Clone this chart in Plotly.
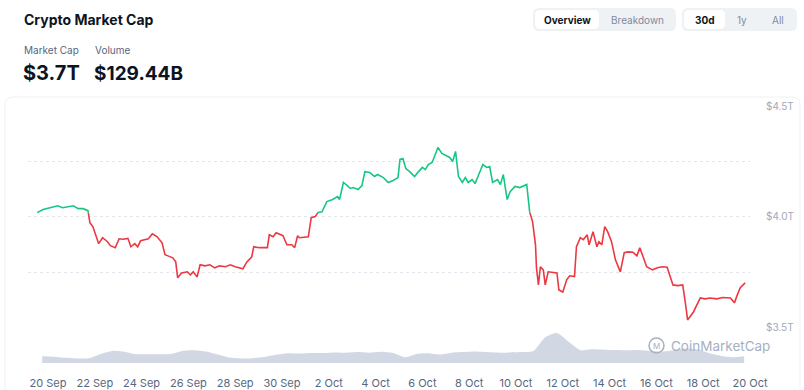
import plotly.graph_objects as go
import pandas as pd

# ---------------- data ----------------
times = [
 "2025-09-19 13:00","2025-09-19 19:00","2025-09-20 02:00","2025-09-20 10:00","2025-09-20 15:00","2025-09-20 23:00",
 "2025-09-21 02:00","2025-09-21 07:00","2025-09-21 12:00","2025-09-21 17:00","2025-09-21 19:00","2025-09-21 22:00",
 "2025-09-22 02:00","2025-09-22 04:00","2025-09-22 08:00","2025-09-22 13:00","2025-09-22 16:00","2025-09-22 21:00",
 "2025-09-23 01:00","2025-09-23 05:00","2025-09-23 10:00","2025-09-23 13:00","2025-09-23 17:00","2025-09-23 20:00",
 "2025-09-23 23:00","2025-09-24 07:00","2025-09-24 11:00","2025-09-24 16:00","2025-09-24 21:00","2025-09-25 00:00",
 "2025-09-25 03:00","2025-09-25 08:00","2025-09-25 11:00","2025-09-25 13:00","2025-09-25 17:00","2025-09-25 23:00",
 "2025-09-26 02:00","2025-09-26 05:00","2025-09-26 09:00","2025-09-26 12:00","2025-09-26 17:00","2025-09-26 22:00",
 "2025-09-27 03:00","2025-09-27 08:00","2025-09-27 14:00","2025-09-27 19:00","2025-09-28 00:00","2025-09-28 08:00",
 "2025-09-28 12:00","2025-09-28 17:00","2025-09-28 19:00","2025-09-29 01:00","2025-09-29 09:00","2025-09-29 11:00",
 "2025-09-29 15:00","2025-09-29 18:00","2025-09-30 01:00","2025-09-30 05:00","2025-09-30 10:00","2025-09-30 13:00",
 "2025-09-30 16:00","2025-09-30 18:00","2025-10-01 03:00","2025-10-01 06:00","2025-10-01 10:00","2025-10-01 13:00",
 "2025-10-01 17:00","2025-10-01 22:00","2025-10-02 04:00","2025-10-02 09:00","2025-10-02 11:00","2025-10-02 15:00",
 "2025-10-02 19:00","2025-10-02 22:00","2025-10-03 01:00","2025-10-03 06:00","2025-10-03 10:00","2025-10-03 13:00",
 "2025-10-03 18:00","2025-10-03 23:00","2025-10-04 02:00","2025-10-04 08:00","2025-10-04 13:00","2025-10-04 18:00",
 "2025-10-04 23:00","2025-10-05 01:00","2025-10-05 04:00","2025-10-05 07:00","2025-10-05 11:00","2025-10-05 16:00",
 "2025-10-05 20:00","2025-10-06 00:00","2025-10-06 03:00","2025-10-06 06:00","2025-10-06 10:00","2025-10-06 13:00",
 "2025-10-06 16:00","2025-10-06 20:00","2025-10-07 01:00","2025-10-07 04:00","2025-10-07 07:00","2025-10-07 10:00",
 "2025-10-07 13:00","2025-10-07 17:00","2025-10-07 20:00","2025-10-07 23:00","2025-10-08 03:00","2025-10-08 06:00",
 "2025-10-08 09:00","2025-10-08 14:00","2025-10-08 18:00","2025-10-08 21:00","2025-10-09 00:00","2025-10-09 05:00",
 "2025-10-09 08:00","2025-10-09 11:00","2025-10-09 13:00","2025-10-09 15:00","2025-10-09 18:00","2025-10-09 23:00",
 "2025-10-10 04:00","2025-10-10 07:00","2025-10-10 11:00","2025-10-10 14:00","2025-10-10 17:00","2025-10-10 20:00",
 "2025-10-10 21:00","2025-10-10 23:00","2025-10-11 01:00","2025-10-11 04:00","2025-10-11 06:00","2025-10-11 09:00",
 "2025-10-11 14:00","2025-10-11 18:00","2025-10-11 20:00","2025-10-12 00:00","2025-10-12 04:00","2025-10-12 07:00",
 "2025-10-12 12:00","2025-10-12 14:00","2025-10-12 18:00","2025-10-12 21:00","2025-10-13 01:00","2025-10-13 03:00",
 "2025-10-13 07:00","2025-10-13 11:00","2025-10-13 13:00","2025-10-13 16:00","2025-10-13 19:00","2025-10-13 22:00",
 "2025-10-14 02:00","2025-10-14 06:00","2025-10-14 11:00","2025-10-14 15:00","2025-10-14 19:00","2025-10-15 00:00",
 "2025-10-15 04:00","2025-10-15 07:00","2025-10-15 14:00","2025-10-15 20:00","2025-10-16 01:00","2025-10-16 06:00",
 "2025-10-16 11:00","2025-10-16 14:00","2025-10-16 17:00","2025-10-16 22:00","2025-10-17 03:00","2025-10-17 06:00",
 "2025-10-17 08:00","2025-10-17 14:00","2025-10-17 18:00","2025-10-17 21:00","2025-10-18 02:00","2025-10-18 07:00",
 "2025-10-18 14:00","2025-10-18 20:00","2025-10-19 04:00","2025-10-19 08:00","2025-10-19 11:00","2025-10-19 14:00",
 "2025-10-19 19:00",
]
market_cap_t = [
 4.019,4.033,4.041,4.050,4.041,4.046,
 4.050,4.037,4.037,4.028,3.974,3.956,
 3.897,3.879,3.906,3.888,3.870,3.861,
 3.901,3.899,3.903,3.865,3.879,3.865,
 3.892,3.901,3.924,3.910,3.883,3.829,
 3.824,3.815,3.797,3.725,3.747,3.752,
 3.738,3.752,3.729,3.784,3.779,3.784,
 3.770,3.779,3.775,3.784,3.775,3.766,
 3.797,3.820,3.865,3.861,3.861,3.919,
 3.910,3.928,3.915,3.874,3.874,3.861,
 3.915,3.906,3.910,3.996,4.001,4.020,
 4.023,4.069,4.078,4.091,4.078,4.155,
 4.141,4.128,4.132,4.123,4.141,4.204,
 4.200,4.182,4.191,4.177,4.155,4.164,
 4.177,4.259,4.263,4.218,4.204,4.182,
 4.204,4.223,4.213,4.236,4.245,4.281,
 4.313,4.286,4.277,4.268,4.250,4.295,
 4.182,4.155,4.177,4.155,4.168,4.150,
 4.182,4.236,4.223,4.227,4.155,4.168,
 4.146,4.191,4.132,4.078,4.114,4.137,
 4.132,4.137,4.146,4.023,3.978,3.874,
 3.770,3.693,3.775,3.761,3.693,3.752,
 3.749,3.747,3.670,3.661,3.716,3.734,
 3.731,3.865,3.906,3.897,3.919,3.874,
 3.933,3.865,3.888,3.874,3.956,3.933,
 3.888,3.806,3.752,3.838,3.842,3.840,
 3.824,3.861,3.775,3.761,3.770,3.775,
 3.773,3.729,3.693,3.690,3.693,3.603,
 3.535,3.571,3.603,3.634,3.630,3.634,
 3.630,3.636,3.634,3.612,3.648,3.680,
 3.702,
]

vol_times = pd.date_range("2025-09-19 18:00", "2025-10-19 18:00", freq="12h")
volume_b = [
 150,143,116,102,109,204,272,252,197,197,197,204,272,286,258,190,122,102,109,136,
 184,218,211,224,224,238,231,245,231,252,224,129,204,218,190,231,245,258,245,231,
 238,245,272,578,673,476,286,306,299,292,286,292,272,258,286,326,306,218,163,129,150,
]

y_tickvals = [3.5, 3.75, 4.0, 4.25, 4.5]
y_ticktext = ["$3.5T", "", "$4.0T", "", "$4.5T"]
x_ticks = pd.date_range("2025-09-20", "2025-10-20", freq="2D")
x_ticktext = [f"{d.day} {d:%b}" for d in x_ticks]

GREEN = "#16c784"
RED = "#ea3943"

# -------- split the line into green / red pieces around the first value --------
t = pd.to_datetime(times)
base = market_cap_t[0]
pieces = {True: ([], []), False: ([], [])}
cur = None
for i in range(len(t) - 1):
    t0, t1 = t[i], t[i + 1]
    v0, v1 = market_cap_t[i], market_cap_t[i + 1]
    s0, s1 = v0 >= base, v1 >= base
    segs = []
    if s0 == s1:
        segs.append((s0, [(t0, v0), (t1, v1)]))
    else:
        frac = (base - v0) / (v1 - v0)
        tc = t0 + (t1 - t0) * frac
        segs.append((s0, [(t0, v0), (tc, base)]))
        segs.append((s1, [(tc, base), (t1, v1)]))
    for s, pts in segs:
        xs, ys = pieces[s]
        if cur != s:
            if xs:
                xs.append(None); ys.append(None)
            xs.append(pts[0][0]); ys.append(pts[0][1])
            cur = s
        xs.append(pts[1][0]); ys.append(pts[1][1])

fig = go.Figure()
fig.add_trace(go.Scatter(
    x=vol_times, y=volume_b, yaxis="y2", mode="lines",
    line=dict(width=0, shape="spline", smoothing=0.6),
    fill="tozeroy", fillcolor="#d1d7e3", hoverinfo="skip", showlegend=False))
for s, col in ((False, RED), (True, GREEN)):
    xs, ys = pieces[s]
    fig.add_trace(go.Scatter(x=xs, y=ys, mode="lines",
                             line=dict(color=col, width=1.6),
                             hoverinfo="skip", showlegend=False))

# -------- layout --------
W, H = 804, 390
L, R, T, B = 28, 54, 106, 27
PW, PH = W - L - R, H - T - B


def PX(x):
    return (x - L) / PW


def PY(y):
    return (H - B - y) / PH


x_left = pd.Timestamp("2025-09-20") - pd.Timedelta(hours=20.5)
x_right = pd.Timestamp("2025-10-20")

main_bottom = PY(327.7)

fig.update_layout(
    width=W, height=H,
    margin=dict(l=L, r=R, t=T, b=B, autoexpand=False),
    paper_bgcolor="white", plot_bgcolor="white",
    font=dict(family="Inter, Roboto, sans-serif", color="#0d1421"),
    xaxis=dict(range=[x_left, x_right], tickvals=x_ticks, ticktext=x_ticktext,
               anchor="free", position=0, automargin=False,
               showgrid=False, zeroline=False, showline=False, ticks="",
               tickfont=dict(size=11, color="#58667e"), ticklabelstandoff=12),
    yaxis=dict(domain=[main_bottom, 1], range=[3.5, 4.5], side="right",
               tickvals=y_tickvals, ticktext=y_ticktext, automargin=False,
               showgrid=True, gridcolor="#e3e6ec", griddash="dot", gridwidth=1,
               zeroline=False, showline=False, ticks="",
               tickfont=dict(size=10, color="#a1a7bb"), ticklabelstandoff=15),
    yaxis2=dict(domain=[0, 0.14], range=[0, 808], visible=False),
    hovermode=False,
)

shapes = []


def rrect(x0, y0, x1, y1, r, fill, line=None):
    rx, ry = r / PW, r / PH
    a0, a1 = PX(x0), PX(x1)
    b0, b1 = PY(y1), PY(y0)
    path = (f"M {a0+rx},{b0} L {a1-rx},{b0} Q {a1},{b0} {a1},{b0+ry} "
            f"L {a1},{b1-ry} Q {a1},{b1} {a1-rx},{b1} L {a0+rx},{b1} "
            f"Q {a0},{b1} {a0},{b1-ry} L {a0},{b0+ry} Q {a0},{b0} {a0+rx},{b0} Z")
    return dict(type="path", xref="paper", yref="paper", path=path,
                fillcolor=fill, line=dict(width=0 if line is None else 1,
                                          color=line or fill), layer="below")


# card border
shapes.append(rrect(5, 97, 800, 400, 8, "rgba(0,0,0,0)", "#eff1f4"))
# button groups
shapes.append(rrect(533, 8, 676, 31, 6, "#eff2f5"))
shapes.append(rrect(535, 10, 599, 29, 5, "#ffffff"))
shapes.append(rrect(682, 8, 797, 31, 6, "#eff2f5"))
shapes.append(rrect(684, 10, 725, 29, 5, "#ffffff"))
# watermark logo circle
shapes.append(dict(type="circle", xref="paper", yref="paper",
                   x0=PX(649), x1=PX(664), y0=PY(353), y1=PY(338),
                   line=dict(color="#a6b0c3", width=1.5), layer="above"))
fig.update_layout(shapes=shapes)

ann = []


def text(x, y, s, size, color, bold=False, anchor="left"):
    ann.append(dict(xref="paper", yref="paper", x=PX(x), y=PY(y), text=f"<b>{s}</b>" if bold else s,
                    showarrow=False, xanchor=anchor, yanchor="middle",
                    font=dict(size=size, color=color, family="Inter, Roboto, sans-serif")))


text(22, 19, "Crypto Market Cap", 14, "#0d1421", bold=True)
text(22, 50, "Market Cap", 10, "#58667e")
text(93, 50, "Volume", 10, "#58667e")
text(21, 73, "$3.7T", 20, "#0d1421", bold=True)
text(92, 73, "$129.44B", 19, "#0d1421", bold=True)
text(567, 19.5, "Overview", 10, "#0d1421", bold=True, anchor="center")
text(637, 19.5, "Breakdown", 10, "#808a9d", anchor="center")
text(704.5, 19.5, "30d", 10, "#0d1421", bold=True, anchor="center")
text(742, 19.5, "1y", 10, "#808a9d", anchor="center")
text(778, 19.5, "All", 10, "#808a9d", anchor="center")
text(656.5, 345.5, "M", 8, "#a6b0c3", anchor="center")
text(669, 345.5, "CoinMarketCap", 13.5, "#a6b0c3")
fig.update_layout(annotations=ann)

fig.write_html("out.html", config={"displayModeBar": False},
               post_script="document.body.style.margin='0';document.body.style.overflow='hidden';")
